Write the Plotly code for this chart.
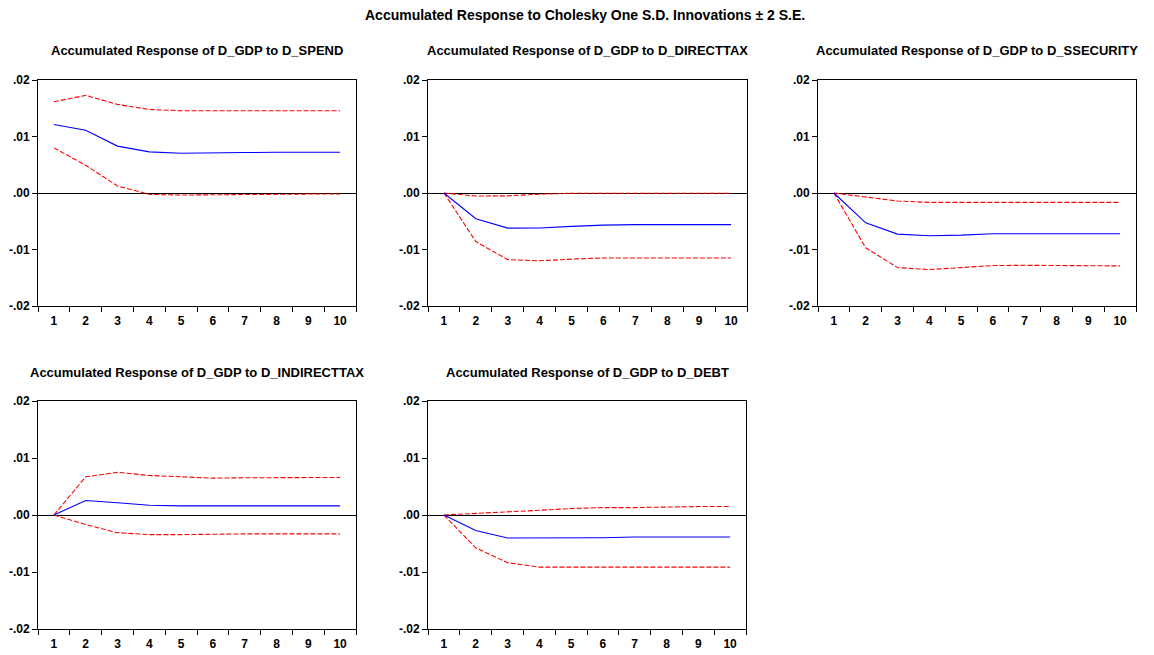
import plotly.graph_objects as go

periods = ["1", "2", "3", "4", "5", "6", "7", "8", "9", "10"]
y_ticks = [-0.02, -0.01, 0.0, 0.01, 0.02]
y_tick_labels = ["-.02", "-.01", ".00", ".01", ".02"]

main_title = "Accumulated Response to Cholesky One S.D. Innovations \u00b1 2 S.E."
titles = [
    "Accumulated Response of D_GDP to D_SPEND",
    "Accumulated Response of D_GDP to D_DIRECTTAX",
    "Accumulated Response of D_GDP to D_SSECURITY",
    "Accumulated Response of D_GDP to D_INDIRECTTAX",
    "Accumulated Response of D_GDP to D_DEBT",
]

spend_resp = [0.01213, 0.0111, 0.0083, 0.00728, 0.00704, 0.00704, 0.00716, 0.0072, 0.0072, 0.00722]
spend_up = [0.01615, 0.01728, 0.01568, 0.01479, 0.01456, 0.01456, 0.01456, 0.01456, 0.01456, 0.01456]
spend_lo = [0.00799, 0.00491, 0.00124, -0.00024, -0.00036, -0.0003, -0.0002, -0.0002, -0.00019, -0.00018]

dtax_resp = [0.0, -0.00456, -0.00621, -0.0062, -0.0059, -0.00568, -0.0056, -0.0056, -0.0056, -0.0056]
dtax_up = [0.0, -0.00053, -0.0005, -0.0002, -0.00005, -0.00005, -0.00005, -0.00005, -0.00005, -0.00005]
dtax_lo = [0.0, -0.0086, -0.0118, -0.012, -0.0117, -0.0115, -0.0115, -0.0115, -0.0115, -0.0115]

ssec_resp = [0.0, -0.00527, -0.00728, -0.00757, -0.00746, -0.00722, -0.00722, -0.00722, -0.00722, -0.00722]
ssec_up = [0.0, -0.0007, -0.00142, -0.00166, -0.00166, -0.00166, -0.00166, -0.00166, -0.00166, -0.00166]
ssec_lo = [0.0, -0.0097, -0.0132, -0.01355, -0.0132, -0.01284, -0.0128, -0.0128, -0.0128, -0.0129]

itax_resp = [0.0, 0.00255, 0.00214, 0.00172, 0.0016, 0.0016, 0.0016, 0.0016, 0.0016, 0.0016]
itax_up = [0.0, 0.0067, 0.00748, 0.00694, 0.0067, 0.00647, 0.00653, 0.00659, 0.00659, 0.00659]
itax_lo = [0.0, -0.00166, -0.0031, -0.00344, -0.00344, -0.00332, -0.00332, -0.00332, -0.00332, -0.00332]

debt_resp = [0.0, -0.00273, -0.00404, -0.00404, -0.00404, -0.00398, -0.00386, -0.00386, -0.00386, -0.00386]
debt_up = [0.0, 0.00024, 0.00047, 0.00083, 0.00113, 0.0013, 0.0013, 0.00142, 0.00148, 0.00148]
debt_lo = [0.0, -0.00576, -0.00837, -0.00914, -0.00914, -0.00914, -0.00914, -0.00914, -0.00914, -0.00914]

panels = [
    (spend_resp, spend_up, spend_lo),
    (dtax_resp, dtax_up, dtax_lo),
    (ssec_resp, ssec_up, ssec_lo),
    (itax_resp, itax_up, itax_lo),
    (debt_resp, debt_up, debt_lo),
]

W, H = 1154, 655
# pixel boxes: (left, right, top, bottom)
boxes = [
    (38, 356, 80, 306),
    (428, 747, 80, 306),
    (818, 1136, 80, 306),
    (38, 356, 401, 629),
    (428, 746, 401, 629),
]

FONT = "Liberation Sans, Arial, sans-serif"
fig = go.Figure()
layout = dict(
    width=W, height=H, margin=dict(l=0, r=0, t=0, b=0, pad=0, autoexpand=False),
    autosize=False,
    paper_bgcolor="white", plot_bgcolor="white", showlegend=False,
    font=dict(family=FONT, color="black"),
)
annotations = [dict(text="<b>" + main_title + "</b>", x=585 / W, y=1 - 15 / H,
                    xref="paper", yref="paper", showarrow=False,
                    font=dict(size=14, family=FONT, color="black"),
                    xanchor="center", yanchor="middle")]

for i, ((resp, up, lo), (l, r, t, b)) in enumerate(zip(panels, boxes)):
    n = "" if i == 0 else str(i + 1)
    xa, ya = "x" + n, "y" + n
    for vals, col, dash in ((up, "#FF0000", "5px,2px"), (lo, "#FF0000", "5px,2px"), (resp, "#0000FF", "solid")):
        fig.add_trace(go.Scatter(x=periods, y=vals, mode="lines", xaxis=xa, yaxis=ya,
                                 line=dict(color=col, width=1.1, dash=dash), hoverinfo="skip"))
    layout["xaxis" + n] = dict(
        domain=[l / W, r / W], anchor=ya, type="category", tickson="boundaries",
        ticks="outside", ticklen=5, tickcolor="black", showgrid=False,
        showline=True, linecolor="black", linewidth=1, mirror=True, automargin=False,
        ticklabelstandoff=4,
        tickfont=dict(size=12, family=FONT, color="black", weight="bold"),
        range=[-0.5, 9.5], fixedrange=True,
    )
    layout["yaxis" + n] = dict(
        domain=[1 - b / H, 1 - t / H], anchor=xa, range=[-0.02, 0.02],
        tickvals=y_ticks, ticktext=y_tick_labels, ticks="outside", ticklen=5,
        tickcolor="black", showgrid=False, zeroline=True, zerolinecolor="black",
        zerolinewidth=1, showline=True, linecolor="black", linewidth=1, mirror=True,
        automargin=False,
        tickfont=dict(size=12, family=FONT, color="black", weight="bold"),
        fixedrange=True,
    )
    annotations.append(dict(text="<b>" + titles[i] + "</b>", x=(l + r) / 2 / W,
                            y=1 - (t - 29) / H, xref="paper", yref="paper",
                            showarrow=False, xanchor="center", yanchor="middle",
                            font=dict(size=13, family=FONT, color="black")))

layout["annotations"] = annotations
fig.update_layout(**layout)
fig.write_html("out.html", config={"displayModeBar": False},
               post_script="document.body.style.margin='0';document.body.style.padding='0';")
